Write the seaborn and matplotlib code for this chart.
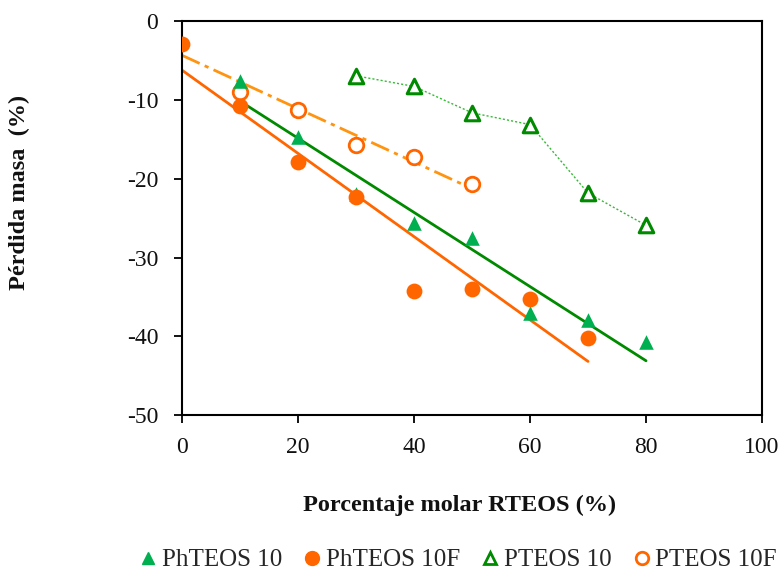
import numpy as np
import pandas as pd
import matplotlib
matplotlib.use("Agg")
import matplotlib.pyplot as plt
import seaborn as sns
from matplotlib.lines import Line2D

# Data
ph10_x = [10, 20, 30, 40, 50, 60, 70, 80]
ph10_y = [-7.5, -14.7, -21.9, -25.6, -27.5, -37.1, -37.9, -40.7]

ph10f_x = [0, 10, 20, 30, 40, 50, 60, 70]
ph10f_y = [-2.8, -10.8, -17.9, -22.3, -34.3, -34.0, -35.2, -40.2]

p10_x = [30, 40, 50, 60, 70, 80]
p10_y = [-6.9, -8.25, -11.6, -13.1, -21.8, -25.9]

p10f_x = [0, 10, 20, 30, 40, 50]
p10f_y = [-2.8, -9.0, -11.2, -15.7, -17.2, -20.7]

labels = ["PhTEOS 10", "PhTEOS 10F", "PTEOS 10", "PTEOS 10F"]
x_ticks = [0, 20, 40, 60, 80, 100]
y_ticks = [0, -10, -20, -30, -40, -50]

sns.set_theme(style="white")
plt.rcParams['font.family'] = ['Liberation Serif', 'DejaVu Serif']

fig = plt.figure(figsize=(7.8, 5.73), dpi=100)
ax = fig.add_axes([0.2333, 0.2757, 0.977 - 0.2333, 0.9625 - 0.2757])

G_FILL = "#00B050"
G_DARK = "#008A00"
G_DOT = "#33BB33"
O_FILL = "#FF6600"
O_DASH = "#FF9410"

# Trend lines
sns.regplot(x=ph10_x, y=ph10_y, ax=ax, scatter=False, ci=None, truncate=True,
            line_kws=dict(color=G_DARK, lw=2, zorder=2))
sns.regplot(x=ph10f_x, y=ph10f_y, ax=ax, scatter=False, ci=None, truncate=True,
            line_kws=dict(color=O_FILL, lw=2, zorder=2))
sns.regplot(x=p10f_x, y=p10f_y, ax=ax, scatter=False, ci=None, truncate=True,
            line_kws=dict(color=O_DASH, lw=2, ls=(0, (7, 2, 1.5, 2)), zorder=2))
sns.lineplot(x=p10_x, y=p10_y, ax=ax, color=G_DOT, lw=1, ls=(0, (1.5, 1.5)),
             zorder=2, sort=False)

# Markers
ms = 110
sns.scatterplot(x=p10f_x[1:], y=p10f_y[1:], ax=ax, marker="o", s=ms,
                facecolor="white", edgecolor=O_FILL, linewidth=2, zorder=3)
sns.scatterplot(x=p10_x, y=p10_y, ax=ax, marker="^", s=ms,
                facecolor="white", edgecolor=G_DARK, linewidth=2.2, zorder=3)
sns.scatterplot(x=ph10_x, y=ph10_y, ax=ax, marker="^", s=ms,
                color=G_FILL, edgecolor=G_FILL, linewidth=0, zorder=4)
sns.scatterplot(x=ph10f_x, y=ph10f_y, ax=ax, marker="o", s=ms + 20,
                color=O_FILL, edgecolor=O_FILL, linewidth=0, zorder=4)

ax.set_xlim(0, 100)
ax.set_ylim(-50, 0)
ax.set_xticks(x_ticks)
ax.set_yticks(y_ticks)
ax.set_xticklabels([str(t) for t in x_ticks])
ax.set_yticklabels([str(t) for t in y_ticks])
ax.tick_params(axis='both', direction='out', length=6, width=1.3, color='black',
               labelsize=17, labelcolor='#111111',
               bottom=True, left=True, top=False, right=False)
ax.tick_params(axis='x', pad=10)
ax.tick_params(axis='y', pad=11)
for s in ax.spines.values():
    s.set_visible(True)
    s.set_color('black')
    s.set_linewidth(1.5)

ax.set_xlabel("")
ax.set_ylabel("")
fig.text(459.5 / 780, 1 - 505 / 573, "Porcentaje molar RTEOS (%)",
         fontsize=17.5, fontweight='bold', ha='center', va='center', color='#111111')
fig.text(19 / 780, 1 - 192 / 573, "Pérdida masa  (%)", fontsize=17.5,
         fontweight='bold', ha='center', va='center', rotation=90, color='#111111')

handles = [
    Line2D([], [], ls='none', marker='^', ms=9, color=G_FILL, mec=G_FILL),
    Line2D([], [], ls='none', marker='o', ms=10, color=O_FILL, mec=O_FILL),
    Line2D([], [], ls='none', marker='^', ms=9, mfc='white', mec=G_DARK, mew=2),
    Line2D([], [], ls='none', marker='o', ms=9, mfc='white', mec=O_FILL, mew=2),
]
fig.legend(handles, labels, loc='center', bbox_to_anchor=(0.585, 1 - 560 / 573), ncol=4,
           frameon=False, fontsize=18, handletextpad=0.05, columnspacing=0.7,
           handlelength=1.0)

fig.savefig("out.png", dpi=100)
